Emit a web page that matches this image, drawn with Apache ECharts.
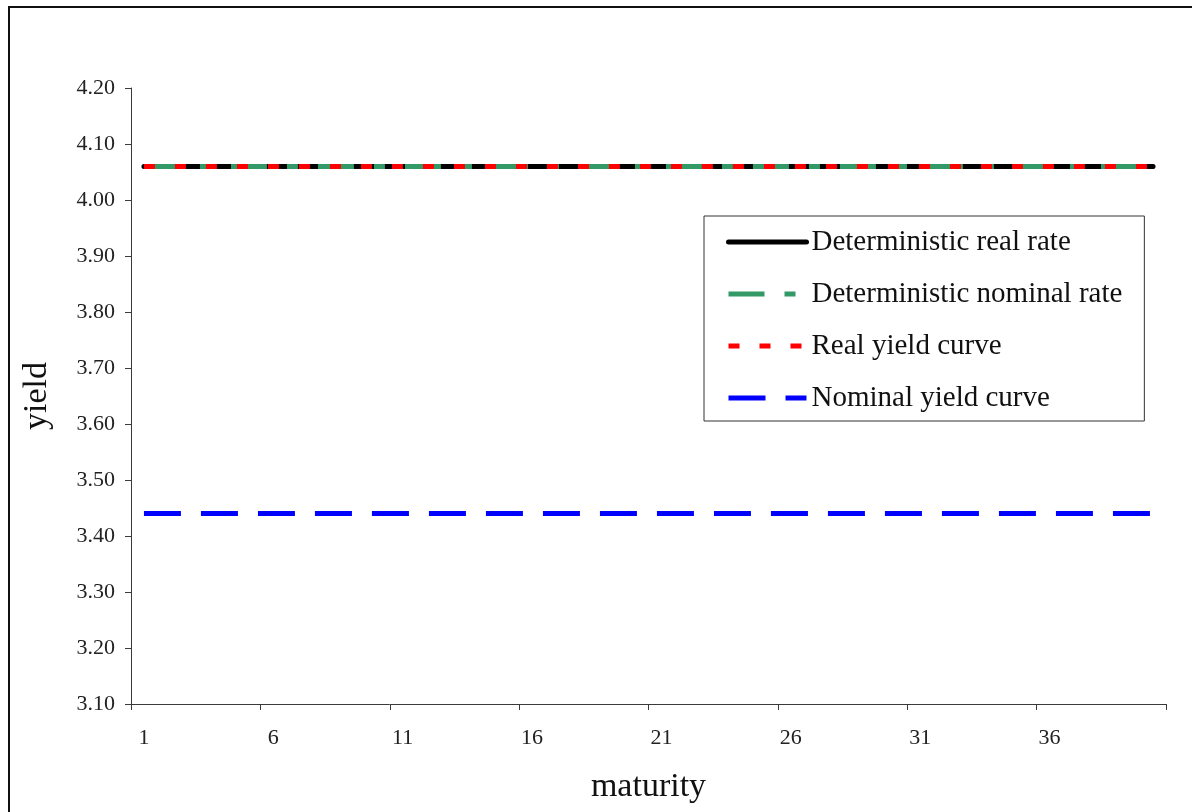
<!DOCTYPE html>
<html>

<head>
    <meta charset="UTF-8">
    <title>yield curves</title>
    <script src="https://cdn.jsdelivr.net/npm/echarts@6/dist/echarts.min.js"></script>
    <style>
        html, body { margin: 0; padding: 0; background: #fff; }
    </style>
</head>

<body>
    <!-- chart container -->
    <div id="main" style="width: 1192px; height: 812px;"></div>

    <script>
        // maturities 1..40
        var maturity = [1, 2, 3, 4, 5, 6, 7, 8, 9, 10, 11, 12, 13, 14, 15, 16, 17, 18, 19, 20,
            21, 22, 23, 24, 25, 26, 27, 28, 29, 30, 31, 32, 33, 34, 35, 36, 37, 38, 39, 40];

        var detRealRate = [4.06, 4.06, 4.06, 4.06, 4.06, 4.06, 4.06, 4.06, 4.06, 4.06,
            4.06, 4.06, 4.06, 4.06, 4.06, 4.06, 4.06, 4.06, 4.06, 4.06,
            4.06, 4.06, 4.06, 4.06, 4.06, 4.06, 4.06, 4.06, 4.06, 4.06,
            4.06, 4.06, 4.06, 4.06, 4.06, 4.06, 4.06, 4.06, 4.06, 4.06];

        var detNominalRate = [4.06, 4.06, 4.06, 4.06, 4.06, 4.06, 4.06, 4.06, 4.06, 4.06,
            4.06, 4.06, 4.06, 4.06, 4.06, 4.06, 4.06, 4.06, 4.06, 4.06,
            4.06, 4.06, 4.06, 4.06, 4.06, 4.06, 4.06, 4.06, 4.06, 4.06,
            4.06, 4.06, 4.06, 4.06, 4.06, 4.06, 4.06, 4.06, 4.06, 4.06];

        var realYield = [4.06, 4.06, 4.06, 4.06, 4.06, 4.06, 4.06, 4.06, 4.06, 4.06,
            4.06, 4.06, 4.06, 4.06, 4.06, 4.06, 4.06, 4.06, 4.06, 4.06,
            4.06, 4.06, 4.06, 4.06, 4.06, 4.06, 4.06, 4.06, 4.06, 4.06,
            4.06, 4.06, 4.06, 4.06, 4.06, 4.06, 4.06, 4.06, 4.06, 4.06];

        var nominalYield = [3.44, 3.44, 3.44, 3.44, 3.44, 3.44, 3.44, 3.44, 3.44, 3.44,
            3.44, 3.44, 3.44, 3.44, 3.44, 3.44, 3.44, 3.44, 3.44, 3.44,
            3.44, 3.44, 3.44, 3.44, 3.44, 3.44, 3.44, 3.44, 3.44, 3.44,
            3.44, 3.44, 3.44, 3.44, 3.44, 3.44, 3.44, 3.44, 3.44, 3.44];

        var seriesNames = ['Deterministic real rate', 'Deterministic nominal rate', 'Real yield curve', 'Nominal yield curve'];

        var serif = '"Liberation Serif", "DejaVu Serif", serif';
        var axisColor = '#3a3a3a';

        var myChart = echarts.init(document.getElementById('main'));

        var option = {
            animation: false,
            backgroundColor: '#fff',
            textStyle: { fontFamily: serif },
            grid: {
                left: 131,
                top: 88,
                right: 26,
                bottom: 108
            },
            // outer frame
            graphic: [{
                type: 'rect',
                shape: { x: 9, y: 7, width: 1300, height: 900 },
                style: { fill: 'none', stroke: '#111', lineWidth: 2 },
                silent: true
            }],
            legend: {
                orient: 'vertical',
                left: 704,
                top: 216,
                padding: [11, 22, 8, 22],
                itemGap: 22,
                itemWidth: 78,
                itemHeight: 14,
                borderColor: '#333',
                borderWidth: 1,
                data: seriesNames,
                // only the line sample, no symbol
                itemStyle: { opacity: 0, borderWidth: 0 },
                lineStyle: { width: 5, opacity: 1 },
                textStyle: {
                    fontFamily: serif,
                    fontSize: 29,
                    color: '#111',
                    lineHeight: 30
                }
            },
            xAxis: {
                type: 'category',
                data: maturity,
                boundaryGap: true,
                name: 'maturity',
                nameLocation: 'middle',
                nameGap: 66,
                nameTextStyle: { fontFamily: serif, fontSize: 34, color: '#111' },
                axisLine: { show: true, lineStyle: { color: axisColor, width: 1 } },
                axisTick: { show: true, interval: 4, length: 6, lineStyle: { color: axisColor, width: 1 } },
                axisLabel: {
                    interval: 4,
                    margin: 23,
                    fontFamily: serif,
                    fontSize: 22,
                    color: '#222'
                },
                splitLine: { show: false }
            },
            yAxis: {
                type: 'value',
                min: 3.1,
                max: 4.2,
                interval: 0.1,
                name: 'yield',
                nameLocation: 'middle',
                nameGap: 77,
                nameTextStyle: { fontFamily: serif, fontSize: 34, color: '#111' },
                axisLine: { show: true, lineStyle: { color: axisColor, width: 1 } },
                axisTick: { show: true, length: 6, lineStyle: { color: axisColor } },
                axisLabel: {
                    margin: 16,
                    fontFamily: serif,
                    fontSize: 22,
                    color: '#222',
                    formatter: function (v) { return v.toFixed(2); }
                },
                splitLine: { show: false }
            },
            series: [
                {
                    name: seriesNames[0],
                    type: 'line',
                    data: detRealRate,
                    symbol: 'none',
                    z: 2,
                    lineStyle: { color: '#000000', width: 5, type: 'solid', cap: 'round' },
                    itemStyle: { color: '#000000' }
                },
                {
                    name: seriesNames[1],
                    type: 'line',
                    data: detNominalRate,
                    symbol: 'none',
                    z: 3,
                    lineStyle: { color: '#339966', width: 5, type: [36, 20, 11, 20] },
                    itemStyle: { color: '#339966' }
                },
                {
                    name: seriesNames[2],
                    type: 'line',
                    data: realYield,
                    symbol: 'none',
                    z: 4,
                    lineStyle: { color: '#ff0000', width: 5, type: [11, 20] },
                    itemStyle: { color: '#ff0000' }
                },
                {
                    name: seriesNames[3],
                    type: 'line',
                    data: nominalYield,
                    symbol: 'none',
                    z: 2,
                    lineStyle: { color: '#0000ff', width: 5, type: [37, 20] },
                    itemStyle: { color: '#0000ff' }
                }
            ]
        };

        myChart.setOption(option);
    </script>
</body>

</html>
